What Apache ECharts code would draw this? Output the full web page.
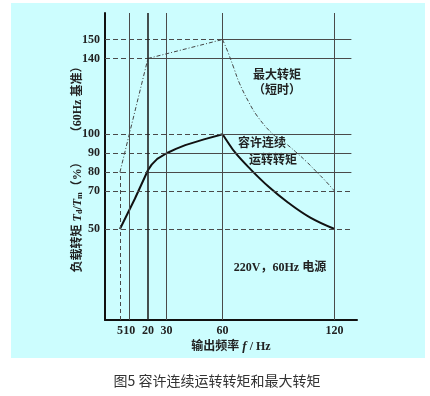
<!DOCTYPE html>
<html><head><meta charset="utf-8">
<script src="https://cdn.jsdelivr.net/npm/echarts@6/dist/echarts.min.js"></script>
<style>html,body{margin:0;padding:0;background:#fff}#c{width:430px;height:396px}</style>
</head><body><div id="c"></div>
<script>
// tick labels
const xTicks = [5, 10, 20, 30, 60, 120];
const yTicks = [50, 70, 80, 90, 100, 140, 150];
// horizontal reference lines: dashed from the y axis up to this frequency, solid beyond it
const hDashedUntil = [129, 129, 20, 30, 60, 20, 60];
const hLineEnd = 129;
// vertical reference lines
const vSolid = [10, 20, 30, 60, 120];
const vDashedF = 5, vDashedTop = 80;
// maximum torque (short time)
const maxRiseF = [5, 20, 60];
const maxRiseT = [80, 140, 150];
const maxFallF = [60, 63, 66, 69, 74, 79, 87, 94, 100, 105, 110, 115, 120];
const maxFallT = [150, 143, 135, 127, 117, 109, 100, 95, 90, 85.5, 80.5, 75.5, 70];
// allowed continuous torque
const contRiseF = [5, 13, 20, 22, 25, 30, 35, 40, 50, 60];
const contRiseT = [50, 66, 81, 84, 87, 90, 92.3, 94.3, 97.3, 100];
const contFallF = [60, 62, 67, 75, 85, 95, 107, 120];
const contFallT = [100, 97, 90, 81.5, 72, 64, 56, 50];

const X_MIN = -3, X_MAX = 132, Y_MIN = 2, Y_MAX = 164;
const zip = (a, b) => a.map((v, i) => [v, b[i]]);
const gridCol = '#4a4a4a';
const serif = '"Liberation Serif","Noto Sans CJK SC",serif';

const lines = [];
yTicks.forEach((y, i) => {
  const d = hDashedUntil[i];
  lines.push([{coord: [X_MIN, y], lineStyle: {type: [5, 3], color: gridCol, width: 1}}, {coord: [d, y]}]);
  if (d < hLineEnd) lines.push([{coord: [d, y], lineStyle: {type: 'solid', color: gridCol, width: 1}}, {coord: [hLineEnd, y]}]);
});
vSolid.forEach(x => {
  lines.push([{coord: [x, Y_MIN], lineStyle: {type: 'solid', color: x === 20 ? '#222' : gridCol, width: x === 20 ? 1.6 : 1}}, {coord: [x, Y_MAX]}]);
});
lines.push([{coord: [vDashedF, Y_MIN], lineStyle: {type: [4, 3], color: gridCol, width: 1}}, {coord: [vDashedF, vDashedTop]}]);

const maxStyle = {color: '#444', width: 1, type: [4, 2, 1, 2]};
const contStyle = {color: '#111', width: 2};

const chart = echarts.init(document.getElementById('c'));
chart.setOption({
  backgroundColor: '#ffffff',
  animation: false,
  grid: {left: 105, top: 13, width: 252, height: 307, containLabel: false, outerBoundsMode: 'none'},
  xAxis: {
    type: 'value', min: X_MIN, max: X_MAX,
    axisLine: {show: true, onZero: false, lineStyle: {color: '#111', width: 2}},
    axisTick: {show: false}, splitLine: {show: false},
    axisLabel: {customValues: xTicks, margin: 5, hideOverlap: false, color: '#222', fontFamily: serif, fontSize: 12, fontWeight: 'bold'},
    name: '{a|输出频率 }{i|f}{a| / Hz}', nameLocation: 'middle', nameGap: 20, nameMoveOverlap: false,
    nameTextStyle: {rich: {
      a: {fontFamily: serif, fontSize: 12, fontWeight: 'bold', color: '#222'},
      i: {fontFamily: serif, fontSize: 13, fontWeight: 'bold', fontStyle: 'italic', color: '#222'}
    }}
  },
  yAxis: {
    type: 'value', min: Y_MIN, max: Y_MAX,
    axisLine: {show: true, onZero: false, lineStyle: {color: '#111', width: 2}},
    axisTick: {show: false}, splitLine: {show: false},
    axisLabel: {customValues: yTicks, margin: 5, color: '#222', fontFamily: serif, fontSize: 12, fontWeight: 'bold'},
    name: '{a|负载转矩 }{i|T}{s|d}{a|/}{i|T}{s|m}{a|（%）      （60Hz 基准）}',
    nameLocation: 'middle', nameRotate: 90, nameGap: 21, nameMoveOverlap: false,
    nameTextStyle: {rich: {
      a: {fontFamily: serif, fontSize: 12, fontWeight: 'bold', color: '#222'},
      i: {fontFamily: serif, fontSize: 12, fontWeight: 'bold', fontStyle: 'italic', color: '#222'},
      s: {fontFamily: serif, fontSize: 8, fontWeight: 'bold', color: '#222', verticalAlign: 'bottom', padding: [5, 0, 0, 0]}
    }}
  },
  graphic: [
    {type: 'rect', z: -100, silent: true, shape: {x: 11, y: 3, width: 414, height: 355}, style: {fill: '#ccfdfe'}},
    {type: 'text', x: 277, y: 76, style: {text: '最大转矩', font: 'bold 12px ' + serif, fill: '#222', align: 'center', verticalAlign: 'middle'}},
    {type: 'text', x: 277, y: 91, style: {text: '（短时）', font: 'bold 12px ' + serif, fill: '#222', align: 'center', verticalAlign: 'middle'}},
    {type: 'text', x: 262, y: 144, style: {text: '容许连续', font: 'bold 12px ' + serif, fill: '#222', align: 'center', verticalAlign: 'middle'}},
    {type: 'text', x: 273, y: 161, style: {text: '运转转矩', font: 'bold 12px ' + serif, fill: '#222', align: 'center', verticalAlign: 'middle'}},
    {type: 'text', x: 280, y: 268, style: {text: '220V，60Hz 电源', font: 'bold 12px ' + serif, fill: '#222', align: 'center', verticalAlign: 'middle'}},
    {type: 'text', x: 217, y: 381, style: {text: '图5 容许连续运转转矩和最大转矩', font: '14px "Noto Sans CJK SC",sans-serif', fill: '#333', align: 'center', verticalAlign: 'middle'}}
  ],
  series: [
    {type: 'line', data: [], z: 1, silent: true,
     markLine: {silent: true, symbol: 'none', label: {show: false}, animation: false, data: lines}},
    {type: 'line', data: zip(maxRiseF, maxRiseT), symbol: 'none', lineStyle: maxStyle, z: 3},
    {type: 'line', data: zip(maxFallF, maxFallT), symbol: 'none', smooth: 0.4, lineStyle: maxStyle, z: 3},
    {type: 'line', data: zip(contRiseF, contRiseT), symbol: 'none', lineStyle: contStyle, z: 4},
    {type: 'line', data: zip(contFallF, contFallT), symbol: 'none', smooth: 0.4, lineStyle: contStyle, z: 4}
  ]
});
</script></body></html>
